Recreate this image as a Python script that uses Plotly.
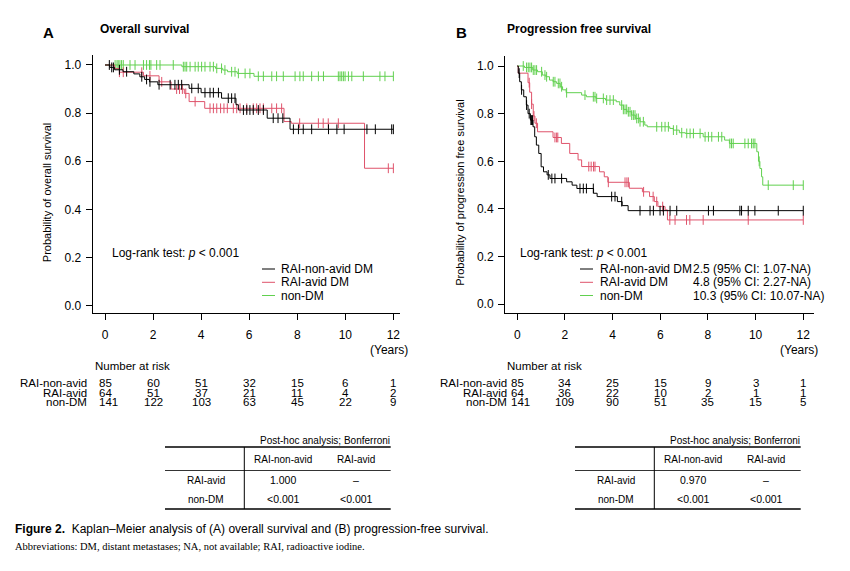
import numpy as np
import plotly.graph_objects as go

# the page body keeps its default 8px margin, so the figure is drawn 8px smaller
# and every reference pixel position is shifted by that margin
PAGE_W, PAGE_H, BODY = 850, 571, 8
W, H = PAGE_W - BODY, PAGE_H - BODY
BLACK, RED, GREEN = "#000000", "#DF536B", "#61D04F"
SANS = "Liberation Sans, Arial, sans-serif"

# --- Kaplan-Meier estimates (time in years, survival)
groups = ["RAI-non-avid DM", "RAI-avid DM", "non-DM"]
colors = [BLACK, RED, GREEN]

# (A) overall survival
os_nonavid_t = [0, 0.2, 0.4, 0.75, 1.2, 1.45, 1.65, 1.85, 2.2, 3.5, 4.0, 4.85, 5.45, 5.55, 6.75, 7.7]
os_nonavid_s = [1.0, 0.99, 0.98, 0.972, 0.963, 0.951, 0.94, 0.93, 0.918, 0.903, 0.885, 0.862, 0.835, 0.813, 0.779, 0.733]
os_nonavid_cens = [0.18, 0.28, 0.35, 0.6, 0.9, 1.53, 1.73, 1.87, 2.25, 2.71, 2.91, 3.05, 3.19, 3.61, 3.88,
                   4.16, 4.37, 4.51, 4.72, 5.13, 5.27, 5.41, 5.76, 5.9, 6.03, 6.17, 6.38, 6.59, 7.0, 7.2,
                   7.4, 7.84, 8.05, 8.25, 8.6, 9.3, 9.65, 9.95, 10.9, 11.25, 11.93, 12.0]
os_avid_t = [0, 0.4, 0.6, 1.6, 2.25, 2.75, 3.3, 3.5, 4.15, 7.45, 7.75, 10.8]
os_avid_s = [1.0, 0.985, 0.97, 0.955, 0.93, 0.9, 0.882, 0.848, 0.82, 0.765, 0.758, 0.571]
os_avid_cens = [0.6, 0.76, 1.53, 1.87, 2.36, 2.98, 3.1, 3.22, 3.36, 3.75, 4.37, 4.51, 4.65, 4.81, 4.95, 5.09,
                5.34, 5.48, 5.62, 5.9, 6.17, 6.31, 6.45, 6.59, 6.94, 7.14, 7.35, 8.1, 8.88, 9.08, 9.29, 9.71,
                11.79, 12.0]
os_nondm_t = [0, 3.2, 4.6, 4.9, 5.1, 5.5, 6.2]
os_nondm_s = [1.0, 0.993, 0.986, 0.979, 0.972, 0.965, 0.953]
os_nondm_cens = [0.42, 0.5, 0.55, 0.62, 0.69, 0.76, 1.04, 1.25, 1.6, 1.73, 1.85, 1.91, 2.15, 2.29, 2.84, 3.26,
                 3.33, 3.4, 3.54, 3.75, 3.88, 4.02, 4.16, 4.37, 4.51, 4.65, 4.85, 4.99, 5.27, 5.41, 5.55,
                 5.83, 6.03, 6.38, 6.59, 6.94, 7.14, 7.42, 7.91, 8.11, 8.25, 8.6, 8.88, 9.09, 9.71, 9.78,
                 9.85, 9.92, 9.99, 10.13, 10.27, 10.75, 11.44, 11.65, 12.0]

# (B) progression free survival
pfs_nonavid_t = [0, 0.04, 0.1, 0.17, 0.27, 0.38, 0.45, 0.55, 0.66, 0.73, 0.8, 0.9, 1.0, 1.1, 1.25, 1.37,
                 2.07, 2.3, 2.5, 3.2, 3.35, 4.2, 4.4, 4.65]
pfs_nonavid_s = [1.0, 0.97, 0.934, 0.9, 0.871, 0.836, 0.8, 0.773, 0.745, 0.703, 0.668, 0.633, 0.577, 0.556,
                 0.543, 0.528, 0.514, 0.5, 0.486, 0.466, 0.452, 0.431, 0.414, 0.393]
pfs_nonavid_cens = [0.08, 0.18, 0.39, 0.5, 0.57, 0.6, 0.64, 1.3, 1.45, 1.58, 1.86, 2.63, 2.77, 2.9, 3.19,
                    3.96, 4.1, 4.38, 5.15, 5.57, 5.71, 5.99, 6.13, 6.41, 6.69, 8.02, 8.23, 9.34, 9.41,
                    9.69, 9.97, 10.95, 12.0]
pfs_avid_t = [0, 0.04, 0.45, 0.52, 0.6, 0.67, 0.74, 0.85, 1.5, 1.85, 2.2, 2.55, 2.7, 3.45, 3.65, 3.8,
              4.7, 5.25, 5.55, 5.75, 5.9, 6.2, 6.3]
pfs_avid_s = [1.0, 0.97, 0.93, 0.89, 0.84, 0.79, 0.76, 0.724, 0.70, 0.675, 0.633, 0.606, 0.578, 0.556,
              0.535, 0.512, 0.487, 0.472, 0.452, 0.431, 0.41, 0.396, 0.354]
pfs_avid_cens = [0.5, 0.6, 0.7, 0.8, 1.58, 1.65, 1.7, 3.0, 3.1, 3.2, 3.26, 3.82, 4.52, 4.6, 4.66, 5.3,
                 5.7, 5.85, 6.1, 6.4, 6.62, 7.1, 7.24, 7.8, 9.69, 12.0]
pfs_nondm_t = [0, 0.3, 0.65, 0.85, 1.05, 1.2, 1.35, 1.5, 1.65, 1.8, 1.9, 2.05, 2.7, 2.9, 3.3, 3.7, 4.15,
               4.3, 4.45, 4.6, 4.8, 4.95, 5.15, 5.35, 5.45, 6.4, 6.55, 6.8, 7.05, 7.8, 8.7, 8.9, 10.05,
               10.12, 10.18, 10.25, 10.3]
pfs_nondm_s = [1.0, 0.994, 0.983, 0.976, 0.962, 0.955, 0.941, 0.934, 0.927, 0.913, 0.9, 0.888, 0.878,
               0.871, 0.864, 0.857, 0.85, 0.836, 0.818, 0.808, 0.794, 0.78, 0.766, 0.752, 0.745, 0.738,
               0.731, 0.72, 0.717, 0.703, 0.689, 0.675, 0.64, 0.6, 0.57, 0.535, 0.5]
pfs_nondm_cens = [0.25, 0.39, 0.46, 0.53, 0.6, 0.67, 0.74, 0.81, 1.02, 1.16, 1.23, 1.51, 1.58, 1.72, 1.79,
                  1.86, 2.07, 2.84, 3.19, 3.26, 3.33, 3.61, 3.75, 3.89, 4.03, 4.38, 4.45, 4.52, 4.59,
                  4.66, 4.73, 4.8, 4.87, 4.94, 5.01, 5.08, 5.15, 5.29, 5.85, 6.06, 6.2, 6.34, 6.55, 6.69,
                  6.9, 7.11, 7.25, 7.39, 7.67, 7.88, 8.02, 8.16, 8.44, 8.58, 8.92, 8.99, 9.06, 9.55, 9.69,
                  9.83, 9.9, 9.97, 10.15, 10.53, 11.58, 12.0]

# numbers at risk
risk_times = [0, 2, 4, 6, 8, 10, 12]
risk_labels = ["RAI-non-avid", "RAI-avid", "non-DM"]
os_risk = [[85, 60, 51, 32, 15, 6, 1], [64, 51, 37, 21, 11, 4, 2], [141, 122, 103, 63, 45, 22, 9]]
pfs_risk = [[85, 34, 25, 15, 9, 3, 1], [64, 36, 22, 10, 2, 1, 1], [141, 109, 90, 51, 35, 15, 5]]

# post-hoc tables
posthoc_cols = ["RAI-non-avid", "RAI-avid"]
posthoc_rows = ["RAI-avid", "non-DM"]
os_posthoc = [["1.000", "–"], ["<0.001", "<0.001"]]
pfs_posthoc = [["0.970", "–"], ["<0.001", "<0.001"]]

pfs_medians = ["2.5 (95% CI: 1.07-NA)", "4.8 (95% CI: 2.27-NA)", "10.3 (95% CI: 10.07-NA)"]

os_curves = [(os_nonavid_t, os_nonavid_s, os_nonavid_cens), (os_avid_t, os_avid_s, os_avid_cens),
             (os_nondm_t, os_nondm_s, os_nondm_cens)]
pfs_curves = [(pfs_nonavid_t, pfs_nonavid_s, pfs_nonavid_cens), (pfs_avid_t, pfs_avid_s, pfs_avid_cens),
              (pfs_nondm_t, pfs_nondm_s, pfs_nondm_cens)]


def xp(px):
    return (px - BODY) / W


def yp(py):
    return 1 - (py - BODY) / H


fig = go.Figure()

for curves, xa, ya in [(os_curves, "x", "y"), (pfs_curves, "x2", "y2")]:
    # draw green first so black/red sit on top
    for i in [2, 1, 0]:
        t, s, cens = curves[i]
        t = np.array(t)
        s = np.array(s)
        cens = np.array(cens)
        end = cens.max()
        fig.add_trace(go.Scatter(x=np.append(t, end), y=np.append(s, s[-1]), mode="lines",
                                 line=dict(color=colors[i], width=1, shape="hv"),
                                 xaxis=xa, yaxis=ya, showlegend=False, hoverinfo="skip"))
        cy = s[np.searchsorted(t, cens, side="right") - 1]
        fig.add_trace(go.Scatter(x=cens, y=cy, mode="markers",
                                 marker=dict(symbol="line-ns", size=7,
                                             line=dict(color=colors[i], width=1)),
                                 xaxis=xa, yaxis=ya, showlegend=False, hoverinfo="skip"))

axis_common = dict(showline=True, linecolor="black", linewidth=1, ticks="outside", ticklen=6,
                   tickwidth=1, tickcolor="black", showgrid=False, zeroline=False,
                   tickfont=dict(family=SANS, size=12, color="black"))

fig.update_layout(
    width=W, height=H, margin=dict(l=0, r=0, t=0, b=0),
    paper_bgcolor="white", plot_bgcolor="white", showlegend=False,
    xaxis=dict(domain=[xp(92.7), xp(400)], range=[-0.512, 12.276], tickvals=risk_times,
               anchor="y", ticklabelstandoff=4, **axis_common),
    yaxis=dict(domain=[yp(313.3), yp(55)], range=[-0.0315, 1.0415], tickvals=[0, 0.2, 0.4, 0.6, 0.8, 1.0],
               tickformat=".1f", anchor="x", ticklabelstandoff=2, **axis_common),
    xaxis2=dict(domain=[xp(505), xp(814)], range=[-0.516, 12.45], tickvals=risk_times,
                anchor="y2", ticklabelstandoff=4, **axis_common),
    yaxis2=dict(domain=[yp(313.3), yp(56)], range=[-0.0378, 1.042], tickvals=[0, 0.2, 0.4, 0.6, 0.8, 1.0],
                tickformat=".1f", anchor="x2", ticklabelstandoff=2, **axis_common),
)

ann = []
shapes = []


def text(x, y, s, size=12, xanchor="left", bold=False, family=SANS, angle=0):
    ann.append(dict(x=xp(x), y=yp(y), xref="paper", yref="paper", text=s, showarrow=False,
                    xanchor=xanchor, yanchor="middle", textangle=angle,
                    font=dict(family=family, size=size, color="black"),
                    borderpad=0))


def hline(x0, x1, y, width=1, color="black"):
    shapes.append(dict(type="line", xref="paper", yref="paper", x0=xp(x0), x1=xp(x1),
                       y0=yp(y), y1=yp(y), line=dict(color=color, width=width)))


def vline(x, y0, y1, width=1):
    shapes.append(dict(type="line", xref="paper", yref="paper", x0=xp(x), x1=xp(x),
                       y0=yp(y0), y1=yp(y1), line=dict(color="black", width=width)))


# panel headings and axis titles
text(42, 32, "<b>A</b>", size=15)
text(99, 29, "<b>Overall survival</b>", size=12)
text(455, 32, "<b>B</b>", size=15)
text(506, 29, "<b>Progression free survival</b>", size=12)
text(46.7, 192.5, "Probability of overall survival", size=11, xanchor="center", angle=-90)
text(459.3, 192.5, "Probability of progression free survival", size=11, xanchor="center", angle=-90)
text(408.5, 350, "(Years)", size=12, xanchor="right")
text(818.5, 350, "(Years)", size=12, xanchor="right")

# log-rank and legends
legend_rows = [269, 282.3, 295.5]
for (lx, key0, key1, txt) in [(110.5, 262, 275, 280), (519.3, 580, 593, 599)]:
    text(lx, 253, "Log-rank test: <i>p</i> &lt; 0.001", size=12)
    for i, g in enumerate(groups):
        hline(key0, key1, legend_rows[i], color=colors[i])
        text(txt, legend_rows[i], g, size=12)
for i, m in enumerate(pfs_medians):
    text(692, legend_rows[i], m, size=12)

# number at risk
risk_rows = [383.3, 392.7, 402.2]
for risk, xref, lab_x, head_x in [(os_risk, "x", 88, 94), (pfs_risk, "x2", 507.5, 506)]:
    text(head_x, 366, "Number at risk", size=11.5)
    for r, lab in enumerate(risk_labels):
        text(lab_x, risk_rows[r], lab, size=11.5, xanchor="right")
        for j, tt in enumerate(risk_times):
            first = j == 0
            ann.append(dict(x=tt, y=yp(risk_rows[r]), xref=xref, yref="paper", text=str(risk[r][j]),
                            showarrow=False, xanchor="left" if first else "center", yanchor="middle",
                            xshift=-8 if first else 0,
                            font=dict(family=SANS, size=11.5, color="black")))

# post-hoc tables
for tab, off in [(os_posthoc, 0), (pfs_posthoc, 410)]:
    x0, x1 = 165 + off, 390.7 + off
    text(x1, 440.5, "Post-hoc analysis; Bonferroni", size=10, xanchor="right")
    hline(x0, x1, 447, width=1.3)
    hline(x0, x1, 470.5, width=0.8)
    hline(x0, x1, 509, width=1.3)
    vline(244.3 + off, 447, 509, width=1)
    cols_x = [283 + off, 356 + off]
    for c, name in enumerate(posthoc_cols):
        text(cols_x[c], 459.5, name, size=10, xanchor="center")
    for r, name in enumerate(posthoc_rows):
        ry = [480, 499.3][r]
        text(206 + off, ry, name, size=10, xanchor="center")
        for c in range(2):
            text(cols_x[c], ry, tab[r][c], size=10.5, xanchor="center")

# caption
text(13.5, 528.5, "<b>Figure 2.</b>  Kaplan–Meier analysis of (A) overall survival and (B) progression-free survival.",
     size=12)
text(13.5, 546, "Abbreviations: DM, distant metastases; NA, not available; RAI, radioactive iodine.",
     size=10.5, family="Liberation Serif, Times New Roman, serif")

fig.update_layout(annotations=ann, shapes=shapes)
fig.write_html("out.html")
